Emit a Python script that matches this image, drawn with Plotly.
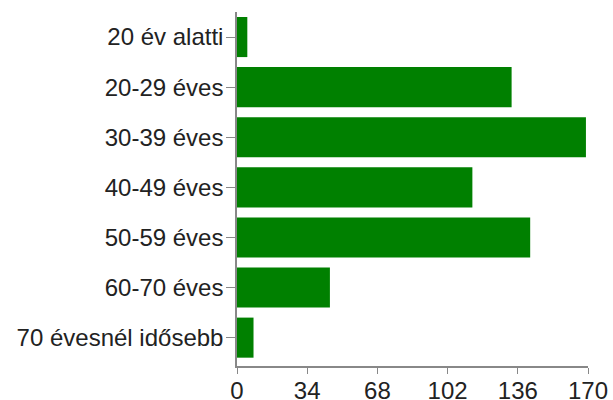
import plotly.graph_objects as go

categories = ["20 év alatti", "20-29 éves", "30-39 éves", "40-49 éves",
              "50-59 éves", "60-70 éves", "70 évesnél idősebb"]
values = [5, 133, 169, 114, 142, 45, 8]
x_ticks = [0, 34, 68, 102, 136, 170]

fig = go.Figure(go.Bar(
    x=values, y=categories, orientation="h",
    marker=dict(color="#008000", line=dict(width=0)),
    hoverinfo="skip",
))

fig.update_layout(
    width=613, height=400,
    margin=dict(l=237, r=25, t=12, b=34, pad=0),
    plot_bgcolor="white", paper_bgcolor="white",
    bargap=0.2,
    showlegend=False,
    font=dict(family="Liberation Sans, Arial, sans-serif", size=24, color="#222222"),
)
fig.update_xaxes(
    range=[0, 170], tickvals=x_ticks, ticktext=[str(t) for t in x_ticks],
    showgrid=False, zeroline=False, automargin=False,
    showline=True, linecolor="#888888", linewidth=1.5,
    ticks="outside", ticklen=6, tickcolor="#888888", tickwidth=1,
    ticklabelstandoff=-4,
)
fig.update_yaxes(
    categoryorder="array", categoryarray=categories,
    range=[6.566, -0.5],
    showgrid=False, zeroline=False, automargin=False,
    showline=True, linecolor="#888888", linewidth=1.5,
    ticks="outside", ticklen=9, tickcolor="#888888", tickwidth=1,
    ticklabelstandoff=-2,
)

fig.write_html("out.html", config={"displayModeBar": False},
               post_script="document.body.style.margin='0';")
